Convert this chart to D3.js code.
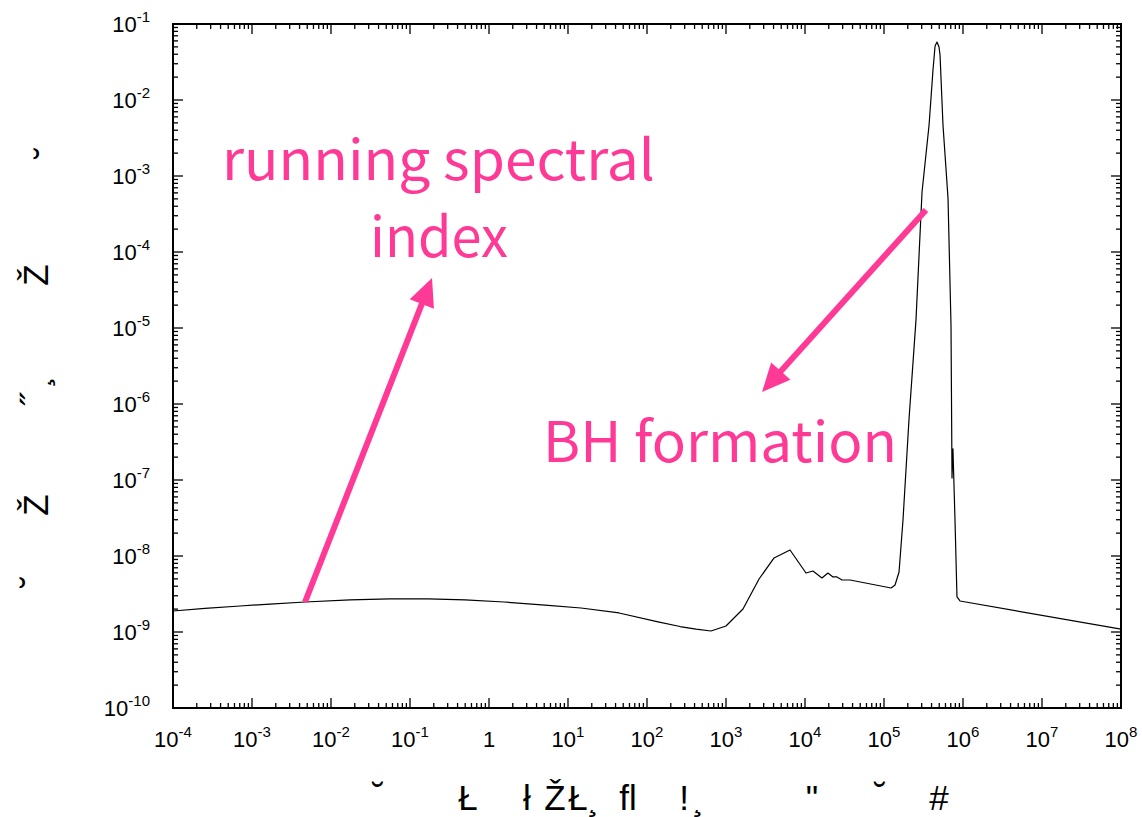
<!DOCTYPE html>
<html>
<head>
<meta charset="utf-8">
<script src="https://cdn.jsdelivr.net/npm/d3@7"></script>
<style>
  html, body { margin: 0; padding: 0; background: #fff; }
  svg { display: block; }
</style>
</head>
<body>
<svg id="chart" width="1142" height="817"></svg>
<script>
// ---------------- data ----------------
const xValues = [1e-4, 2.54e-4, 7.05e-4, 1.69e-3, 4.69e-3, 0.0174, 0.0558, 0.169, 0.497, 1.55, 5.12, 14.6, 44.3, 138, 262, 417, 646, 1000, 1640, 2620, 4060, 6460,
  1.03e4, 1.26e4, 1.64e4, 1.95e4, 2.26e4, 2.54e4, 2.94e4, 3.72e4, 1.23e5, 1.38e5, 1.55e5, 1.74e5, 2.07e5, 2.54e5,
  3.03e5, 3.72e5, 4.17e5, 4.43e5, 4.69e5, 4.97e5, 5.12e5, 5.58e5, 6.46e5, 7.05e5, 7.26e5, 7.46e5, 7.92e5, 8.39e5, 9.16e5, 1e8];
const yValues = [1.89e-9, 2.04e-9, 2.20e-9, 2.33e-9, 2.48e-9, 2.64e-9, 2.72e-9, 2.72e-9, 2.64e-9, 2.48e-9, 2.26e-9, 2.07e-9, 1.78e-9, 1.36e-9, 1.18e-9, 1.09e-9, 1.03e-9, 1.20e-9, 2.01e-9, 4.98e-9, 9.42e-9, 1.20e-8,
  5.97e-9, 6.35e-9, 5.14e-9, 5.97e-9, 5.30e-9, 5.30e-9, 4.83e-9, 4.83e-9, 3.79e-9, 4.15e-9, 6.15e-9, 2.98e-8, 6.15e-7, 1.27e-5,
  6.15e-4, 4.69e-3, 0.0248, 0.0514, 0.0579, 0.0498, 0.0391, 4.69e-3, 5.14e-4, 1.09e-5, 1.06e-7, 2.56e-7, 2.98e-8, 2.89e-9, 2.56e-9, 1.09e-9];

const xTickExponents = [-4, -3, -2, -1, 0, 1, 2, 3, 4, 5, 6, 7, 8];
const yTickExponents = [-10, -9, -8, -7, -6, -5, -4, -3, -2, -1];

const annotationTexts = ["running spectral", "index", "BH formation"];
// arrows: [fromX, fromY, toX, toY] in data units
const arrowRunning = [4.69e-3, 2.48e-9, 0.19, 4.55e-5];
const arrowBH = [3.4e5, 3.57e-4, 2.86e3, 1.44e-6];

const xLabelGlyphs = ["˘", "Ł", "ł", "Ž", "Ł", "¸", "ﬂ", "!", "¸", "\"", "˘", "#"];
const yLabelGlyphs = ["˘", "Ž", "˝", "¸", "Ž", "˘"];

// ---------------- layout ----------------
const m = { left: 173, right: 1121, top: 24, bottom: 708 };
const pink = "#ff3996";

const svg = d3.select("#chart");
const x = d3.scaleLog().domain([1e-4, 1e8]).range([m.left, m.right]);
const y = d3.scaleLog().domain([1e-10, 1e-1]).range([m.bottom, m.top]);

// minor + major ticks on all four sides
const tickG = svg.append("g").attr("stroke", "#000").attr("stroke-width", 1.3);
function minorVals(exps) {
  const out = [];
  for (let i = 0; i < exps.length - 1; i++) for (let k = 2; k <= 9; k++) out.push(k * Math.pow(10, exps[i]));
  return out;
}
const xMajor = xTickExponents.map(e => Math.pow(10, e));
const yMajor = yTickExponents.map(e => Math.pow(10, e));
const xMinor = minorVals(xTickExponents);
const yMinor = minorVals(yTickExponents);
const MAJ = 10, MIN = 5;
function xTicks(vals, len) {
  vals.forEach(v => {
    const px = x(v);
    tickG.append("line").attr("x1", px).attr("x2", px).attr("y1", m.bottom).attr("y2", m.bottom - len);
    tickG.append("line").attr("x1", px).attr("x2", px).attr("y1", m.top).attr("y2", m.top + len);
  });
}
function yTicks(vals, len) {
  vals.forEach(v => {
    const py = y(v);
    tickG.append("line").attr("y1", py).attr("y2", py).attr("x1", m.left).attr("x2", m.left + len);
    tickG.append("line").attr("y1", py).attr("y2", py).attr("x1", m.right).attr("x2", m.right - len);
  });
}
xTicks(xMajor, MAJ); xTicks(xMinor, MIN);
yTicks(yMajor, MAJ); yTicks(yMinor, MIN);

// frame
svg.append("rect").attr("x", m.left).attr("y", m.top)
  .attr("width", m.right - m.left).attr("height", m.bottom - m.top)
  .attr("fill", "none").attr("stroke", "#000").attr("stroke-width", 2);

// tick labels
const tickFont = "'Liberation Sans', Arial, Helvetica, sans-serif";
function powerLabel(sel, e) {
  if (e === 0) { sel.append("tspan").text("1"); return; }
  sel.append("tspan").text("10");
  sel.append("tspan").attr("font-size", 15).attr("dy", -10).text(String(e));
}
xTickExponents.forEach(e => {
  const t = svg.append("text").attr("x", x(Math.pow(10, e))).attr("y", 747)
    .attr("text-anchor", "middle").attr("font-family", tickFont).attr("font-size", 22).attr("fill", "#000");
  powerLabel(t, e);
});
yTickExponents.forEach(e => {
  const t = svg.append("text").attr("x", 150).attr("y", y(Math.pow(10, e)) + 8)
    .attr("text-anchor", "end").attr("font-family", tickFont).attr("font-size", 22).attr("fill", "#000");
  powerLabel(t, e);
});

// curve
const pts = xValues.map((v, i) => [v, yValues[i]]);
svg.append("path").datum(pts)
  .attr("fill", "none").attr("stroke", "#000").attr("stroke-width", 1.2).attr("stroke-linejoin", "round")
  .attr("d", d3.line().x(d => x(d[0])).y(d => y(d[1])));

// arrows
function arrow(a) {
  const x1 = x(a[0]), y1 = y(a[1]), x2 = x(a[2]), y2 = y(a[3]);
  const ang = Math.atan2(y2 - y1, x2 - x1);
  const hl = 28, hw = 13;
  const bx = x2 - hl * Math.cos(ang), by = y2 - hl * Math.sin(ang);
  svg.append("line").attr("x1", x1).attr("y1", y1).attr("x2", bx + 2 * Math.cos(ang)).attr("y2", by + 2 * Math.sin(ang))
    .attr("stroke", pink).attr("stroke-width", 6);
  const px = -Math.sin(ang), py = Math.cos(ang);
  svg.append("path").attr("fill", pink)
    .attr("d", `M${x2},${y2}L${bx + hw * px},${by + hw * py}L${bx - hw * px},${by - hw * py}Z`);
}
arrow(arrowRunning);
arrow(arrowBH);

// annotation text
const annFont = "'Noto Sans CJK JP', 'Noto Sans', sans-serif";
const annPos = [[438.5, 180], [439, 257], [720, 462]];
const annWidth = [433, 138, 354];
annotationTexts.forEach((s, i) => {
  svg.append("text").attr("x", annPos[i][0]).attr("y", annPos[i][1])
    .attr("text-anchor", "middle").attr("font-family", annFont).attr("font-size", 56)
    .attr("font-weight", 400).attr("fill", pink)
    .attr("textLength", annWidth[i]).attr("lengthAdjust", "spacingAndGlyphs").text(s);
});

// axis labels (garbled glyphs as in original)
const axFont = 35;
const xGlyphX = [378, 468, 527, 555, 578, 593, 628, 684, 698, 812, 880, 939];
const xGlyphY = [808, 810, 810, 810, 810, 810, 810, 810, 810, 810, 808, 810];
xLabelGlyphs.forEach((g, i) => {
  svg.append("text").attr("x", xGlyphX[i]).attr("y", xGlyphY[i]).attr("text-anchor", "middle")
    .attr("font-family", tickFont).attr("font-size", axFont).attr("fill", "#000").text(g);
});
const yGlyphPos = [[46, 582], [48, 505], [46, 400], [48, 382], [48, 275], [60, 153]];
yLabelGlyphs.forEach((g, i) => {
  const [gx, gy] = yGlyphPos[i];
  svg.append("text").attr("transform", `translate(${gx},${gy}) rotate(-90)`)
    .attr("text-anchor", "middle").attr("font-family", tickFont).attr("font-size", axFont)
    .attr("fill", "#000").text(g);
});
</script>
</body>
</html>
